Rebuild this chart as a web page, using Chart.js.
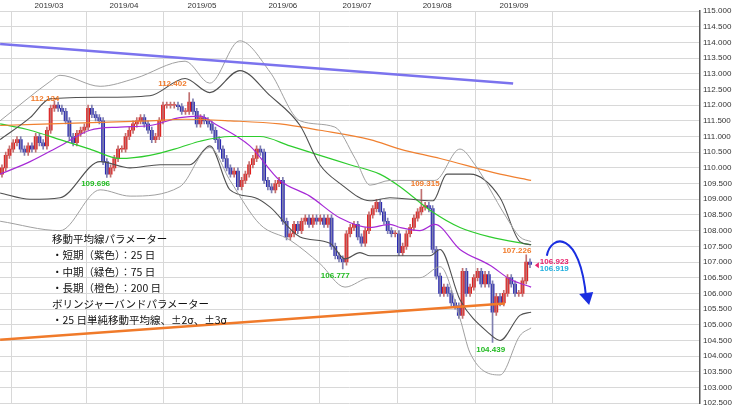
<!DOCTYPE html>
<html><head><meta charset="utf-8">
<script src="https://cdn.jsdelivr.net/npm/chart.js@4/dist/chart.umd.min.js"></script>
<style>
html,body{margin:0;padding:0;background:#fff;}
#wrap{position:relative;width:740px;height:411px;}
#note{position:absolute;left:52px;top:231px;font-family:"Noto Sans CJK JP","Noto Sans",sans-serif;font-size:10.5px;line-height:16.3px;color:#111;}
</style></head><body>
<div id="wrap"><canvas id="c" width="740" height="411"></canvas>
<div id="note">移動平均線パラメーター<br>・短期（紫色）：25 日<br>・中期（緑色）：75 日<br>・長期（橙色）：200 日<br>ボリンジャーバンドパラメーター<br>・25 日単純移動平均線、±2σ、±3σ</div>
</div>
<script>
const closes=[110.0,110.4,110.6,110.8,110.9,110.6,110.5,110.7,110.6,111.0,110.8,110.7,
111.2,111.9,112.0,
111.9,111.8,111.5,111.0,110.8,
111.1,111.2,111.3,111.9,111.7,111.6,111.5,
110.2,109.8,110.0,110.3,110.6,110.6,111.0,111.2,111.4,111.5,111.6,111.4,111.2,110.9,111.0,111.5,112.0,112.0,112.0,112.0,111.95,111.8,111.8,112.1,111.8,111.4,111.6,111.5,111.4,111.2,110.9,
110.6,110.3,110.0,109.8,109.9,109.4,109.6,109.8,110.1,110.3,110.6,110.5,109.6,109.4,109.3,109.5,109.6,
108.3,107.8,107.9,108.2,108.0,108.3,108.4,108.2,108.4,108.3,108.4,108.2,108.4,
107.5,107.2,107.1,107.0,107.9,108.1,108.2,107.8,107.6,108.0,108.5,108.7,108.9,
108.6,108.3,108.0,107.9,107.9,107.3,107.5,107.9,108.1,108.4,108.6,108.75,108.8,108.7,
107.4,106.55,106.0,106.2,106.0,105.7,105.6,105.3,106.7,106.0,106.2,106.5,106.7,106.3,106.6,106.3,105.4,105.9,105.7,106.0,106.5,106.3,106.0,106.0,106.4,107.0,106.92];
const firstOpen=109.8;
const lowMarks={28:109.696,50:112.402,14:112.134,91:106.777,112:109.315,131:104.439,140:107.226};
const monthLabels=['2019/03','2019/04','2019/05','2019/06','2019/07','2019/08','2019/09'];
const monthIdx=[12.55,32.6,53.4,75.0,94.8,116.2,136.7];
const ma25=[[-0.5,109.8],[7.5,110.2],[15.5,110.7],[23.5,111.2],[31.5,111.3],[39.5,111.35],[47.5,111.6],[52.9,111.65],[56.9,111.4],[66.2,110.7],[74.2,109.6],[82.2,109.1],[90.3,108.4],[98.3,108.1],[103.6,108.2],[106.3,108.1],[111.6,108.0],[115.6,108.2],[122.3,107.4],[130.3,106.9],[135.7,106.45],[141.3,106.2]];
const ma75=[[-0.5,111.4],[7.5,111.2],[15.5,110.9],[23.5,110.6],[31.5,110.3],[39.5,110.4],[47.5,110.65],[52.9,110.85],[60.9,111.0],[68.9,111.0],[76.9,110.7],[84.9,110.4],[92.9,110.1],[100.9,109.8],[106.3,109.4],[114.3,108.65],[122.3,108.1],[130.3,107.8],[141.3,107.55]];
const ma200=[[-0.5,111.35],[26.2,111.45],[39.5,111.5],[48.9,111.55],[60.9,111.5],[74.2,111.4],[84.9,111.2],[98.3,110.9],[106.3,110.6],[117,110.3],[133,109.8],[141.3,109.6]];
const bbUp3=[[-0.5,111.5],[12.8,112.75],[15.5,112.95],[26.2,112.6],[35.5,112.85],[48.9,113.4],[55.5,112.7],[63.5,114.05],[71.6,113.05],[79.6,111.5],[88.9,111.3],[94.3,110.3],[98.3,109.45],[103.6,109.6],[115.6,109.6],[122.3,110.6],[126.3,110.1],[134.3,108.5],[138.3,107.8],[141.3,107.65]];
const bbUp2=[[-0.5,110.9],[7.5,111.6],[12.8,112.2],[26.2,112.25],[39.5,112.3],[48.9,112.85],[55.5,112.4],[63.5,113.1],[71.6,112.3],[79.6,111.35],[84.9,110.1],[90.3,109.5],[98.3,108.95],[103.6,109.05],[115.1,108.95],[118.8,109.8],[125,109.8],[133,109.05],[138.3,107.65],[141.3,107.55]];
const bbLo2=[[-0.5,109.2],[7.5,109.0],[15.5,109.05],[26.2,110.2],[34.2,110.0],[42.2,110.1],[50.2,110.1],[55.5,110.7],[60.9,109.3],[67.6,109.05],[71.6,108.75],[79.6,107.8],[87.6,107.6],[91.6,107.1],[95.6,107.3],[98.3,107.2],[114.3,107.2],[117,107.4],[122.3,105.8],[130.3,104.7],[133,104.5],[138.3,105.3],[141.3,105.4]];
const bbLo3=[[-0.5,108.3],[15.5,108.0],[26.2,109.3],[34.2,109.1],[47.5,109.4],[55.5,110.65],[60.9,109.6],[68.9,108.2],[76.9,107.7],[84.9,106.95],[91.6,106.2],[98.3,106.5],[111.6,106.5],[117,106.85],[122.3,105.2],[125,104.1],[133,103.4],[138.3,104.65],[141.3,104.9]];
const trendBlue=[[-0.5,113.95],[136.5,112.69]];
const trendOrange=[[-0.5,104.52],[134.3,105.68]];
const labels=[{i:11.5,v:112.2,t:'112.134',c:'#f07a2a'},{i:45.5,v:112.68,t:'112.402',c:'#f07a2a'},{i:25,v:109.5,t:'109.696',c:'#22bb22'},{i:89,v:106.55,t:'106.777',c:'#22bb22'},{i:113,v:109.5,t:'109.315',c:'#f07a2a'},{i:130.5,v:104.2,t:'104.439',c:'#22bb22'},{i:137.5,v:107.35,t:'107.226',c:'#f07a2a'},{i:147.5,v:107.0,t:'106.923',c:'#e8246e'},{i:147.5,v:106.78,t:'106.919',c:'#20b0e0'}];

const bodies=[],wicksUp=[],wicksDn=[],up=[],dn=[];
closes.forEach((c,i)=>{const o=i?closes[i-1]:firstOpen;const isUp=c>=o;
 let lo=Math.min(o,c)-0.1,hi=Math.max(o,c)+0.1;
 if(lowMarks[i]!==undefined){ if(lowMarks[i]<Math.min(o,c)) lo=lowMarks[i]; else hi=lowMarks[i]; }
 const b={x:i,y:[o,c===o?c+0.02:c]},w={x:i,y:[lo,hi]};
 (isUp?up:dn).push(b);(isUp?wicksUp:wicksDn).push(w);});
const pts=a=>a.map(p=>({x:p[0],y:p[1]}));
const line=(d,col,w)=>({type:'line',data:pts(d),borderColor:col,borderWidth:w,pointRadius:0,cubicInterpolationMode:'monotone',fill:false});
const bar=(d,col,t)=>({type:'bar',data:d,backgroundColor:col,borderWidth:0,barThickness:t,grouped:false});

const deco={id:'deco',afterDatasetsDraw(ch){const x=ch.scales.x,y=ch.scales.y,ctx=ch.ctx;ctx.save();
 ctx.font='bold 8px "Liberation Sans",sans-serif';ctx.textAlign='center';ctx.textBaseline='middle';
 labels.forEach(l=>{ctx.fillStyle=l.c;ctx.fillText(l.t,x.getPixelForValue(l.i),y.getPixelForValue(l.v));});
 ctx.fillStyle='#e8246e';ctx.beginPath();const tx=x.getPixelForValue(142.3),ty=y.getPixelForValue(106.9);
 ctx.moveTo(tx,ty);ctx.lineTo(tx+4,ty-3);ctx.lineTo(tx+4,ty+3);ctx.fill();
 ctx.strokeStyle='#1a2ee0';ctx.lineWidth=2;ctx.beginPath();
 const ax=x.getPixelForValue(145.5),ay=y.getPixelForValue(107.2),bx=x.getPixelForValue(156),by=y.getPixelForValue(105.85);
 ctx.moveTo(ax,ay);ctx.bezierCurveTo(ax+4,ay-22,bx-6,ay-26,bx,by);ctx.stroke();
 ctx.fillStyle='#1a2ee0';ctx.beginPath();ctx.moveTo(bx+3,by+7);ctx.lineTo(bx-7,by-4);ctx.lineTo(bx+7,by-6);ctx.fill();
 ctx.restore();}};

new Chart(document.getElementById('c'),{data:{datasets:[
 line(trendBlue,'#7b73ee',2.5),line(trendOrange,'#f07a2a',2.5),
 line(bbUp3,'#a0a0a0',1),line(bbLo3,'#a0a0a0',1),line(bbUp2,'#505050',1.1),line(bbLo2,'#505050',1.1),
 line(ma200,'#f08030',1.2),line(ma75,'#2ecc2e',1.2),line(ma25,'#a62ad6',1.2),
 bar(wicksUp,'#c07070',1),bar(wicksDn,'#8080b0',1),bar(up,'#e0201e',3.2),bar(dn,'#2a2ab0',3.2)]},
 options:{responsive:false,animation:false,plugins:{legend:{display:false},tooltip:{enabled:false}},
 layout:{padding:{left:0,right:0,top:0,bottom:0}},
 scales:{x:{type:'linear',position:'top',min:-0.53,max:186.4,offset:false,
   afterBuildTicks:s=>{s.ticks=monthIdx.map(v=>({value:v}));},
   ticks:{autoSkip:false,maxRotation:0,padding:0,font:{size:8,family:'"Liberation Sans",sans-serif'},color:'#333',callback:(v,i)=>monthLabels[i]},
   grid:{color:'#d8d8d8',drawTicks:false},border:{display:false},afterFit:s=>{s.height=11;}},
  y:{position:'right',min:102.5,max:115,
   afterBuildTicks:s=>{const t=[];for(let v=102.5;v<=115.001;v+=0.5)t.push({value:v});s.ticks=t;},
   ticks:{padding:3,font:{size:8,family:'"Liberation Sans",sans-serif'},color:'#333',callback:v=>v.toFixed(3)},
   grid:{color:'#d8d8d8',drawTicks:false},border:{color:'#555',width:1.5},afterFit:s=>{s.width=40;}}}},
 plugins:[deco]});
</script></body></html>
